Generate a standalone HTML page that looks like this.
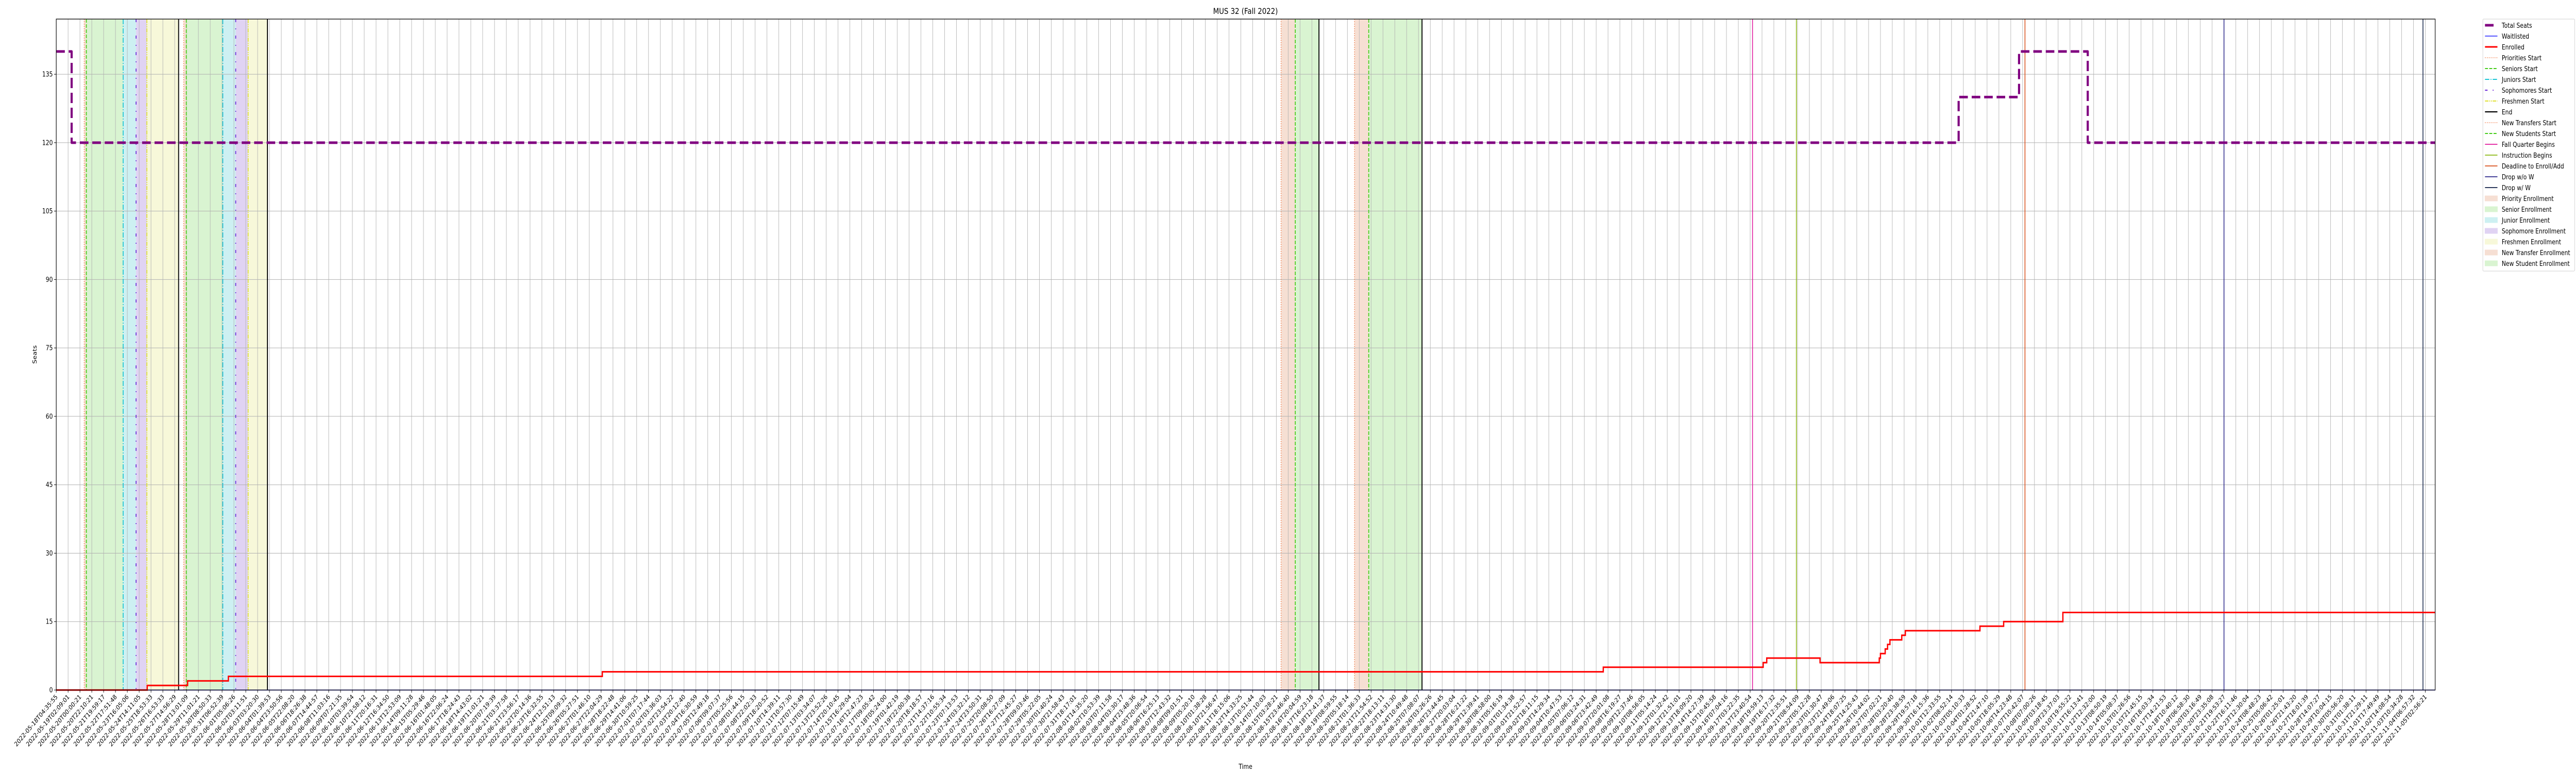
<!DOCTYPE html>
<html><head><meta charset="utf-8"><style>
html,body{margin:0;padding:0;background:#fff;width:100vw;height:100vh;overflow:hidden;}
svg{display:block;width:100vw;height:100vh;font-family:"DejaVu Sans","Liberation Sans",sans-serif;}
</style></head><body>
<svg id="chart" viewBox="0 0 6000 1500" preserveAspectRatio="none" xmlns="http://www.w3.org/2000/svg" overflow="hidden">
<text x="2901" y="27" font-size="16" text-anchor="middle">MUS 32 (Fall 2022)</text>
<text x="85" y="688" font-size="13" text-anchor="middle" transform="rotate(-90 85 688)">Seats</text>
<text x="2901" y="1492" font-size="13" text-anchor="middle">Time</text>
<g id="bands"></g><g id="grid"></g><g id="events"></g><g id="series"></g><g id="axes"></g><g id="legend"></g>
</svg>
<script>
// ---- data ----
const yTicks = [0,15,30,45,60,75,90,105,120,135];
const knownTickLabels = {0:"2022-05-18T04:35:55",1:"2022-05-19T02:09:01",2:"2022-05-20T00:00:21",3:"2022-05-20T22:10:21",4:"2022-05-21T19:59:17",5:"2022-05-22T17:51:48",6:"2022-05-23T16:05:06",7:"2022-05-24T14:11:05",8:"2022-05-25T18:53:33",9:"2022-05-26T16:53:33",10:"2022-05-27T14:56:29",11:"2022-05-28T13:01:09",12:"2022-05-29T11:01:21",13:"2022-05-30T08:50:33",14:"2022-05-31T06:52:39",15:"2022-06-01T05:06:26",16:"2022-06-02T03:11:51",17:"2022-06-03T03:20:30",18:"2022-06-04T01:39:53",19:"2022-06-04T23:50:56",20:"2022-06-05T22:08:20",190:"2022-10-27T18:01:39",191:"2022-10-28T14:07:27",192:"2022-10-29T10:04:15",193:"2022-10-30T05:56:20",194:"2022-10-31T01:38:11",195:"2022-10-31T21:29:11",196:"2022-11-01T17:49:49",197:"2022-11-02T14:08:54",198:"2022-11-03T10:34:28",199:"2022-11-04T06:57:32",200:"2022-11-05T02:56:21"};
const tickCount = 201;
// x positions are in sample-index units (tick i sits at index i)
const seatsX = [0, 1.30, 160.6, 165.7, 171.5, 200.83];
const seatsY = [140, 120, 130, 140, 120, 120];
const enrolledX = [0, 7.68, 11.09, 14.53, 46.1, 130.6, 144.1, 144.4, 148.9, 153.9, 154.0, 154.4, 154.6, 154.8, 155.8, 156.1, 162.4, 164.4, 169.4, 200.83];
const enrolledY = [0, 1, 2, 3, 4, 5, 6, 7, 6, 7, 8, 9, 10, 11, 12, 13, 14, 15, 17, 17];
const waitlistX = [0, 200.83];
const waitlistY = [0, 0];
const bandStart = [2.36, 2.54, 5.65, 6.74, 7.65, 10.76, 10.98, 14.06, 15.15, 16.2, 103.4, 104.6, 109.6, 110.8];
const bandEnd   = [2.54, 5.65, 6.74, 7.65, 10.33, 10.98, 14.06, 15.15, 16.2, 17.83, 104.6, 106.6, 110.8, 115.3];
const bandKind  = ["priority","senior","junior","soph","fresh","priority","senior","junior","soph","fresh","transfer","newstudent","transfer","newstudent"];
const eventX    = [2.36, 2.54, 5.65, 6.74, 7.65, 10.33, 10.76, 10.98, 14.06, 15.15, 16.2, 17.83, 103.4, 104.6, 106.6, 109.6, 110.8, 115.3, 143.2, 146.9, 166.2, 183.0, 199.8];
const eventKind = ["priorities","seniors","juniors","sophs","freshmen","end","priorities","seniors","juniors","sophs","freshmen","end","transfers","newstudents","end","transfers","newstudents","end","fall","instruction","deadline","dropwo","dropw"];

// ---- styles ----
const bandColor = {priority:"#f6dfd3",senior:"#d9f4d1",junior:"#cdf0f2",soph:"#e0d3f3",fresh:"#f7f8d9",transfer:"#f6dfd3",newstudent:"#d9f4d1"};
const evStyle = {
 priorities:["#f06a30",1.6,"1.5 3"], seniors:["#44cc18",2,"7 3"], juniors:["#18c4d4",2,"10 3 2 3"],
 sophs:["#6a28d8",2,"6 12 2 12"], freshmen:["#e0e030",2,"8 2 2 2 2 2"], end:["#000",2.2,""],
 transfers:["#f06a30",1.6,"1.5 3"], newstudents:["#44cc18",2,"7 3"], fall:["#e0189c",1.8,""],
 instruction:["#8cb814",1.8,""], deadline:["#d8501c",1.8,""], dropwo:["#2e2a8c",1.8,""], dropw:["#2c3a5c",2,""]
};
const L=131,R=5672,T=37,B=1339,XMAX=200.83,YMAX=147.1;
const sx=v=>L+(v/XMAX)*(R-L);
const sy=v=>B-(v/YMAX)*(B-T);
const NS="http://www.w3.org/2000/svg";
function mk(tag,attrs,parent){const e=document.createElementNS(NS,tag);for(const k in attrs)e.setAttribute(k,attrs[k]);parent.appendChild(e);return e;}
const gB=document.getElementById('bands'),gG=document.getElementById('grid'),gE=document.getElementById('events'),gS=document.getElementById('series'),gA=document.getElementById('axes'),gL=document.getElementById('legend');

// tick labels
function pt(s){return Date.UTC(+s.slice(0,4),+s.slice(5,7)-1,+s.slice(8,10),+s.slice(11,13),+s.slice(14,16),+s.slice(17,19));}
function fmt(t){const d=new Date(t);const p=n=>String(n).padStart(2,'0');return d.getUTCFullYear()+"-"+p(d.getUTCMonth()+1)+"-"+p(d.getUTCDate())+"T"+p(d.getUTCHours())+":"+p(d.getUTCMinutes())+":"+p(d.getUTCSeconds());}
const tickLabels=[];
{const keys=Object.keys(knownTickLabels).map(Number).sort((a,b)=>a-b);
 for(let i=0;i<tickCount;i++){
  if(knownTickLabels[i]){tickLabels.push(knownTickLabels[i]);continue;}
  let a=keys.filter(k=>k<i).pop(),b=keys.find(k=>k>i);
  const ta=pt(knownTickLabels[a]),tb=pt(knownTickLabels[b]);
  tickLabels.push(fmt(ta+(tb-ta)*(i-a)/(b-a)));
 }}

// bands
for(let i=0;i<bandStart.length;i++){
 const r=mk('rect',{x:sx(bandStart[i]),y:T,width:sx(bandEnd[i])-sx(bandStart[i]),height:B-T,fill:bandColor[bandKind[i]]},gB);
 
 
}
// grid
for(let i=0;i<tickCount;i++){
 const l=mk('line',{x1:sx(i),x2:sx(i),y1:T,y2:B,stroke:"#b0b0b0","stroke-width":1},gG);
 
 
}
yTicks.forEach(v=>{
 const l=mk('line',{x1:L,x2:R,y1:sy(v),y2:sy(v),stroke:"#b0b0b0","stroke-width":1},gG);
 
 
});
// events
for(let i=0;i<eventX.length;i++){
 const s=evStyle[eventKind[i]];
 const l=mk('line',{x1:sx(eventX[i]),x2:sx(eventX[i]),y1:T,y2:B,stroke:s[0],"stroke-width":s[1]},gE);
 if(s[2])l.setAttribute('stroke-dasharray',s[2]);
 
 
}
// step series
function stepPath(xs,ys){let d="M"+sx(xs[0])+","+sy(ys[0]);for(let i=1;i<xs.length;i++){d+=" L"+sx(xs[i])+","+sy(ys[i-1])+" L"+sx(xs[i])+","+sy(ys[i]);}return d;}
const wl=mk('path',{d:stepPath(waitlistX,waitlistY),fill:"none",stroke:"#2020ff","stroke-width":1.6},gS);


const en=mk('path',{d:stepPath(enrolledX,enrolledY),fill:"none",stroke:"#ff0000","stroke-width":3},gS);


const ts=mk('path',{d:stepPath(seatsX,seatsY),fill:"none",stroke:"#800080","stroke-width":5,"stroke-dasharray":"20 9","stroke-linejoin":"round"},gS);


// axes
const fr=mk('rect',{x:L,y:T,width:R-L,height:B-T,fill:"none",stroke:"#000","stroke-width":1.3},gA);


yTicks.forEach(v=>{
 mk('line',{x1:L-5,x2:L,y1:sy(v),y2:sy(v),stroke:"#000","stroke-width":1},gA);
 const t=mk('text',{x:L-8,y:sy(v)+4.5,"font-size":13,"text-anchor":"end"},gA);
 t.textContent=v;
 
 
});
for(let i=0;i<tickCount;i++){
 const x=sx(i);
 mk('line',{x1:x,x2:x,y1:B,y2:B+5,stroke:"#000","stroke-width":1},gA);
 const t=mk('text',{x:x+4,y:B+14,"font-size":12.5,"text-anchor":"end",transform:"rotate(-45 "+(x+4)+" "+(B+14)+")"},gA);
 t.textContent=tickLabels[i];
 
 
}
// legend
const legendNames=["Total Seats","Waitlisted","Enrolled","Priorities Start","Seniors Start","Juniors Start","Sophomores Start","Freshmen Start","End","New Transfers Start","New Students Start","Fall Quarter Begins","Instruction Begins","Deadline to Enroll/Add","Drop w/o W","Drop w/ W","Priority Enrollment","Senior Enrollment","Junior Enrollment","Sophomore Enrollment","Freshmen Enrollment","New Transfer Enrollment","New Student Enrollment"];
const legendStyle=[["#800080",5,""],["#2020ff",1.5,""],["#ff0000",3,""],evStyle.priorities,evStyle.seniors,evStyle.juniors,evStyle.sophs,evStyle.freshmen,evStyle.end,evStyle.transfers,evStyle.newstudents,evStyle.fall,evStyle.instruction,evStyle.deadline,evStyle.dropwo,evStyle.dropw];
const legendPatch=["priority","senior","junior","soph","fresh","transfer","newstudent"];
const lb=mk('rect',{x:5783,y:37,width:214,height:21*legendNames.length+6,fill:"#fff",stroke:"#d0d0d0","stroke-width":1,rx:2},gL);


legendNames.forEach((n,i)=>{
 const cy=49+i*21;
 const g=mk('g',{},gL);
 
 
 if(i<legendStyle.length){
  const s=legendStyle[i];
  const l=mk('line',{x1:5788,x2:5817,y1:cy,y2:cy,stroke:s[0],"stroke-width":s[1]},g);
  if(s[2])l.setAttribute('stroke-dasharray',s[2]);
  if(i===0){l.setAttribute('x2',5808);}
 } else {
  mk('rect',{x:5788,y:cy-5,width:29,height:10,fill:bandColor[legendPatch[i-legendStyle.length]],stroke:bandColor[legendPatch[i-legendStyle.length]]},g);
 }
 const t=mk('text',{x:5827,y:cy+5,"font-size":13},g);
 t.textContent=n;
});
</script>
</body></html>
